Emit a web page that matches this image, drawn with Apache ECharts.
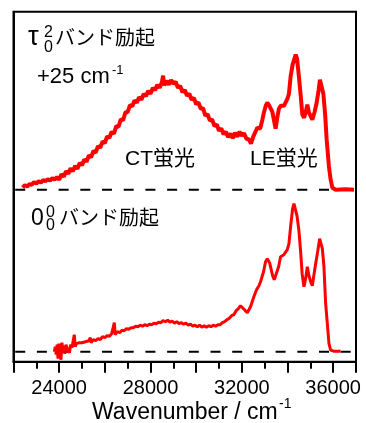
<!DOCTYPE html>
<html><head><meta charset="utf-8">
<script src="https://cdn.jsdelivr.net/npm/echarts@6/dist/echarts.min.js"></script>
<style>html,body{margin:0;padding:0;background:#fff}#c{width:366px;height:423px}</style>
</head><body><div id="c"></div>
<script>
// Upper spectrum: τ0^2 band excitation (+25 cm-1), plotted above an offset baseline
const upperWn = [22400,22500,22600,22700,22800,22900,23000,23100,23200,23300,23400,23500,23600,23700,23800,23900,
  24000,24100,24200,24300,24400,24500,24600,24700,24800,24900,25000,25100,25200,25300,25400,25500,25600,25700,25800,25900,
  26000,26100,26200,26300,26400,26500,26600,26700,26800,26900,27000,27100,27200,27300,27400,27500,27600,27700,27800,27900,
  28000,28100,28200,28300,28400,28500,28550,28600,28700,28800,28900,29000,29100,29200,29300,29400,29500,29600,29700,29800,29900,
  30000,30100,30200,30300,30400,30500,30600,30700,30800,30900,31000,31100,31200,31300,31400,31500,31600,31700,31800,31900,
  32000,32100,32200,32300,32400,32500,32600,32675,32800,32900,32965,33050,33114,33200,33333,33479,33550,33625,33700,33772,33850,33918,
  34000,34063,34136,34224,34357,34420,34500,34575,34649,34728,34800,34868,34940,35088,35189,35277,35365,35421,35496,35570,35649,35715,
  35816,35890,35965,36110,36548,36912];
const upperInt = [2,4.5,3,5.5,5,7.5,6,8.5,7,9.5,8.5,10.5,9,11.5,10,12.5,
  10,15.5,13,18.5,16,21.3,18.5,23.8,21,26.8,24.5,30.3,28,34.3,32.5,38.8,37,43.5,42,48.3,
  46.5,53.3,52,58,56,63.5,63,70.3,69.5,77.5,77.5,84.5,83.5,89.3,87,92.5,90,95.8,93.5,98.8,
  96,101.8,99.5,104.8,102,107.3,114,104.5,108.8,105,109.5,106,108,102,103.8,97.5,99.8,94,96,90,91.8,
  85.5,87.3,81,81.5,74,75.5,69,70.3,63.5,65.3,59,61.3,55.5,58,52.5,56,51.5,57,53,58,
  54,56.5,51,50.5,46,53,58,62,61,70,77,84,87,84,78,61,72,81,84,85,84,86,
  91,96,113,125,135,131,113,95,75,72,78,85,77,70,78,87,100,110,108,96,75,50,
  23,10,2,0,0.5,0];
// Lower spectrum: 0_0^0 band excitation
const lowerWn = [23785,23830,23870,23910,23950,23990,24030,24080,24120,24160,24200,24250,24300,24350,24400,24450,24500,24560,24620,24662,
  24700,24760,24820,24880,24940,25000,25080,25150,25220,25300,25364,25400,25500,25600,25700,25800,25900,26000,26100,26200,26300,26417,
  26450,26550,26650,26750,26850,26950,27050,27150,27250,27350,27450,27550,27650,27750,27850,27950,28050,28150,28250,28350,28450,28550,
  28650,28750,28850,28950,29050,29150,29250,29350,29450,29550,29650,29750,29850,29950,30050,30150,30250,30350,30450,30550,30650,30750,
  30850,30950,31050,31150,31250,31350,31450,31550,31650,31750,31850,31943,32017,32118,32237,32307,32381,32526,32644,32750,32819,32951,
  33039,33114,33215,33348,33420,33479,33610,33697,33780,33842,33920,33991,34063,34136,34224,34282,34357,34423,34500,34575,34641,34720,
  34794,34868,34938,35013,35088,35145,35233,35320,35408,35474,35526,35596,35671,35737,35816,35890,36022,36329];
const lowerInt = [0,5,-3,7,-7,8,1,-8,9,2,6,-2,7,3,5,-1,7,4,6,17,
  5,8,6,9,7,9,7,10,8,11,14,9,12,11,13,12,15,14,16,15.5,18,29,
  17,20,19,21.5,21,23,22.5,24,24,25.5,25,26.5,25.5,27,26,27.5,27,28.5,28,29.5,29,31,
  30,31.5,29.5,30.5,28.5,30,28,29,27.5,28.5,26.5,27.5,25.5,26.5,25,26.5,24.5,26,24.5,26,25,26.5,
  25.5,27,27,29,30,32,33.5,36,37,41,43,46,47,42,39,37,45,55,62,66,70,80,
  90,93,89,76,72,73,85,95,94,97,99,102,108,125,143,148,146,135,121,100,78,65,
  73,85,76,70,66,75,88,100,113,111,103,85,48,30,8,1.5,0.5,0.5];
const upperOffset = 162;
const baselineWn = [22075, 36980];
const tickLabels = [24000, 28000, 32000, 36000];

const FONT = "'Liberation Sans', Arial, 'Noto Sans CJK JP', sans-serif";
const pairs = (xs, ys, off) => xs.map((x, i) => [x, ys[i] + off]);

function txt(text, x, y, size) {
  return { type: 'text', x: x, y: y, style: { text: text, font: size + 'px ' + FONT, fill: '#000', align: 'left', verticalAlign: 'middle' } };
}

const chart = echarts.init(document.getElementById('c'), null, { renderer: 'canvas' });
chart.setOption({
  animation: false,
  grid: { left: 13.5, right: 10, top: 11.7, bottom: 61.3, show: true, borderColor: '#000', borderWidth: 2, backgroundColor: 'transparent' },
  xAxis: {
    type: 'value', min: 22000, max: 37000, interval: 2000,
    axisLine: { show: true, onZero: false, lineStyle: { color: '#000', width: 2 } },
    axisTick: { show: true, inside: false, length: 11, lineStyle: { color: '#000', width: 2 } },
    minorTick: { show: true, splitNumber: 2, length: 7, lineStyle: { color: '#000', width: 2 } },
    splitLine: { show: false }, minorSplitLine: { show: false },
    axisLabel: { color: '#000', fontSize: 20, fontFamily: FONT, margin: 17,
      formatter: v => tickLabels.includes(v) ? String(v) : '' }
  },
  yAxis: {
    type: 'value', min: -10, max: 340,
    axisLine: { show: true, onZero: false, lineStyle: { color: '#000', width: 2 } },
    axisTick: { show: false }, axisLabel: { show: false }, splitLine: { show: false }
  },
  series: [
    { type: 'line', data: baselineWn.map(x => [x, 0]), showSymbol: false, silent: true,
      lineStyle: { color: '#000', width: 2, type: [10, 11.7] } },
    { type: 'line', data: baselineWn.map(x => [x, upperOffset]), showSymbol: false, silent: true,
      lineStyle: { color: '#000', width: 2, type: [10, 11.7] } },
    { type: 'line', data: pairs(lowerWn, lowerInt, 0), showSymbol: false, silent: true,
      lineStyle: { color: '#ff0000', width: 3 } },
    { type: 'line', data: pairs(upperWn, upperInt, upperOffset), showSymbol: false, silent: true,
      lineStyle: { color: '#ff0000', width: 4 } }
  ],
  graphic: [
    txt('τ', 28, 38, 27),
    txt('2', 44, 32.7, 16),
    txt('0', 44, 47.7, 16),
    txt('バンド励起', 55, 39, 20),
    txt('+25 cm', 37, 77.3, 22),
    txt('-1', 112, 70.5, 13),
    txt('CT蛍光', 125, 159.5, 21),
    txt('LE蛍光', 250, 159.5, 21),
    txt('0', 31, 218.6, 23),
    txt('0', 46, 212.7, 16),
    txt('0', 46, 226, 16),
    txt('バンド励起', 59, 219, 20),
    txt('Wavenumber / cm', 92, 413, 23),
    txt('-1', 279, 404, 14)
  ]
});
</script></body></html>
